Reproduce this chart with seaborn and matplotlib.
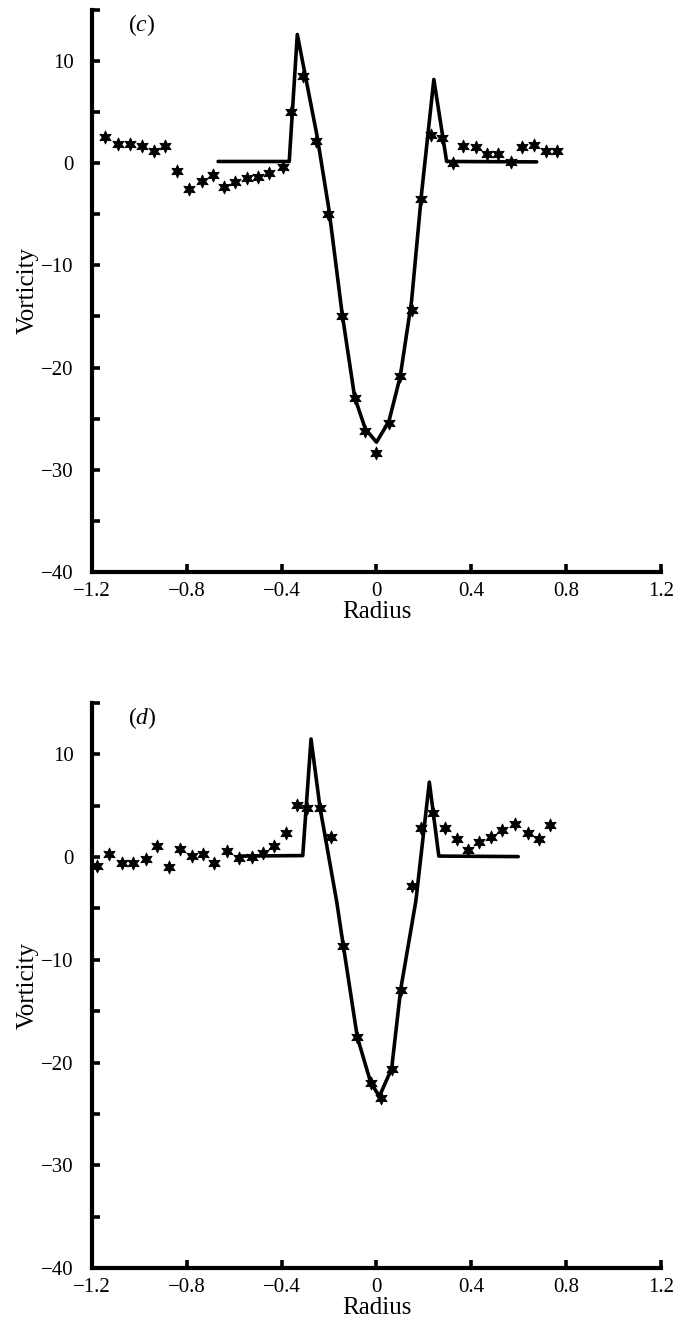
import numpy as np
import pandas as pd
import seaborn as sns
import matplotlib
matplotlib.use('Agg')
import matplotlib.pyplot as plt
from matplotlib.ticker import MultipleLocator

# panel (c): measured vorticity (stars) and model profile (line)
c_star_x = [-1.145, -1.089, -1.04, -0.99, -0.94, -0.892, -0.84, -0.79, -0.737, -0.69,
            -0.643, -0.597, -0.548, -0.499, -0.452, -0.393, -0.362, -0.308, -0.253, -0.203,
            -0.145, -0.092, -0.047, 0.0, 0.054, 0.099, 0.148, 0.186, 0.228, 0.275,
            0.321, 0.366, 0.418, 0.467, 0.511, 0.567, 0.612, 0.665, 0.715, 0.762]
c_star_y = [2.6, 1.9, 1.9, 1.7, 1.2, 1.7, -0.75, -2.55, -1.7, -1.2,
            -2.3, -1.8, -1.4, -1.3, -1.0, -0.4, 5.0, 8.5, 2.2, -5.0,
            -15.0, -23.0, -26.2, -28.4, -25.4, -20.8, -14.4, -3.5, 2.75, 2.5,
            0.0, 1.7, 1.6, 0.95, 0.95, 0.13, 1.6, 1.8, 1.2, 1.2]
c_line_x = [-0.668, -0.368, -0.334, -0.25, -0.20, -0.145, -0.092, -0.047, 0.0, 0.052,
            0.10, 0.148, 0.19, 0.242, 0.296, 0.676]
c_line_y = [0.17, 0.17, 12.6, 2.6, -4.6, -14.7, -22.9, -26.0, -27.3, -25.3,
            -20.9, -13.5, -3.0, 8.2, 0.17, 0.13]

# panel (d)
d_star_x = [-1.178, -1.127, -1.075, -1.026, -0.973, -0.927, -0.874, -0.829, -0.78, -0.73,
            -0.684, -0.632, -0.579, -0.526, -0.48, -0.431, -0.382, -0.334, -0.292, -0.240,
            -0.193, -0.14, -0.081, -0.025, 0.019, 0.064, 0.102, 0.148, 0.186, 0.24,
            0.289, 0.338, 0.385, 0.434, 0.482, 0.53, 0.584, 0.638, 0.685, 0.732]
d_star_y = [-0.87, 0.32, -0.55, -0.55, -0.23, 1.07, -0.97, 0.81, 0.1, 0.26,
            -0.55, 0.58, -0.13, 0.03, 0.42, 1.07, 2.36, 5.05, 4.75, 4.75,
            2.0, -8.64, -17.5, -22.0, -23.5, -20.6, -12.9, -2.8, 2.85, 4.3,
            2.85, 1.8, 0.68, 1.49, 1.94, 2.62, 3.23, 2.36, 1.8, 3.1]
d_line_x = [-0.58, -0.311, -0.276, -0.238, -0.168, -0.14, -0.081, -0.025, 0.012, 0.064,
            0.102, 0.166, 0.223, 0.263, 0.598]
d_line_y = [0.1, 0.15, 11.5, 4.8, -4.3, -8.6, -17.5, -21.9, -23.3, -20.6,
            -12.9, -4.3, 7.3, 0.1, 0.05]

x_ticks = [-1.2, -0.8, -0.4, 0, 0.4, 0.8, 1.2]
x_ticklabels = ['\u22121.2', '\u22120.8', '\u22120.4', '0', '0.4', '0.8', '1.2']
y_ticks = [-40, -30, -20, -10, 0, 10]
y_ticklabels = ['\u221240', '\u221230', '\u221220', '\u221210', '0', '10']

panels = [('c', c_star_x, c_star_y, c_line_x, c_line_y),
          ('d', d_star_x, d_star_y, d_line_x, d_line_y)]

sns.set_theme(style="ticks")
plt.rcParams['font.family'] = ['Liberation Serif', 'DejaVu Serif']
plt.rcParams['mathtext.fontset'] = 'custom'
plt.rcParams['mathtext.it'] = 'Liberation Serif:italic'
plt.rcParams['mathtext.rm'] = 'Liberation Serif'
plt.rcParams['text.color'] = 'black'
plt.rcParams['axes.labelcolor'] = 'black'

f = plt.figure(figsize=(6.83, 13.27), dpi=100)
boxes = [[0.1347, 0.569, 0.833, 0.4235], [0.1347, 0.0445, 0.833, 0.4257]]

for (lab, sx, sy, lx, ly), box in zip(panels, boxes):
    ax = f.add_axes(box)
    stars = pd.DataFrame({'Radius': sx, 'Vorticity': sy})
    prof = pd.DataFrame({'Radius': lx, 'Vorticity': ly})
    sns.lineplot(prof, x='Radius', y='Vorticity', sort=False, estimator=None,
                 color='black', lw=2.6, ax=ax)
    sns.scatterplot(stars, x='Radius', y='Vorticity', marker=(6, 1, 0), s=85,
                    color='black', edgecolor='black', linewidth=0.7, ax=ax, zorder=3)
    ax.set_xlim(-1.2, 1.2)
    ax.set_ylim(-40, 15)
    ax.set_xticks(x_ticks)
    ax.set_xticklabels(x_ticklabels)
    ax.set_yticks(y_ticks)
    ax.set_yticklabels(y_ticklabels)
    ax.yaxis.set_minor_locator(MultipleLocator(5))
    ax.tick_params(which='both', direction='in', length=6, width=2.6, labelsize=15,
                   colors='black')
    ax.tick_params(axis='y', which='both', pad=13)
    ax.tick_params(axis='x', which='both', pad=7)
    sns.despine(ax=ax)
    for s in ['left', 'bottom']:
        ax.spines[s].set_linewidth(3)
        ax.spines[s].set_color('black')
    ax.set_xlabel('Radius', fontsize=18, labelpad=0)
    ax.set_ylabel('Vorticity', fontsize=18, labelpad=2)
    ax.text(0.063, 0.973, '($\\it{%s}$)' % lab, transform=ax.transAxes,
            fontsize=17, va='center', ha='left')

f.savefig('out.png', dpi=100, facecolor='white')
